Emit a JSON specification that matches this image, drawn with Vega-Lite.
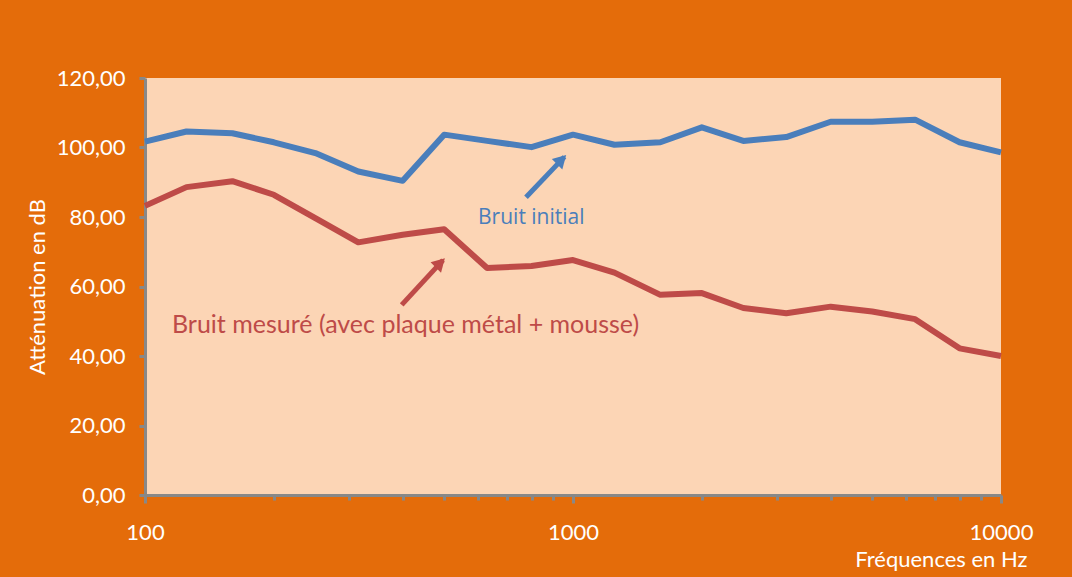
{
  "$schema": "https://vega.github.io/schema/vega-lite/v6.json",
  "width": 856,
  "height": 417,
  "autosize": {"type": "none"},
  "padding": {"left": 145, "top": 78, "right": 71, "bottom": 82},
  "background": "#E46C0A",
  "config": {
    "view": {"fill": "#FCD5B5", "stroke": null},
    "font": "Lato"
  },
  "datasets": {
    "series": [
      {"freq": 100, "value": 101.7, "serie": "Bruit initial"},
      {"freq": 125, "value": 104.6, "serie": "Bruit initial"},
      {"freq": 160, "value": 104.1, "serie": "Bruit initial"},
      {"freq": 200, "value": 101.5, "serie": "Bruit initial"},
      {"freq": 250, "value": 98.4, "serie": "Bruit initial"},
      {"freq": 315, "value": 93.1, "serie": "Bruit initial"},
      {"freq": 400, "value": 90.4, "serie": "Bruit initial"},
      {"freq": 500, "value": 103.7, "serie": "Bruit initial"},
      {"freq": 630, "value": 101.9, "serie": "Bruit initial"},
      {"freq": 800, "value": 100.1, "serie": "Bruit initial"},
      {"freq": 1000, "value": 103.7, "serie": "Bruit initial"},
      {"freq": 1250, "value": 100.8, "serie": "Bruit initial"},
      {"freq": 1600, "value": 101.5, "serie": "Bruit initial"},
      {"freq": 2000, "value": 105.8, "serie": "Bruit initial"},
      {"freq": 2500, "value": 101.9, "serie": "Bruit initial"},
      {"freq": 3150, "value": 103.0, "serie": "Bruit initial"},
      {"freq": 4000, "value": 107.4, "serie": "Bruit initial"},
      {"freq": 5000, "value": 107.4, "serie": "Bruit initial"},
      {"freq": 6300, "value": 108.0, "serie": "Bruit initial"},
      {"freq": 8000, "value": 101.5, "serie": "Bruit initial"},
      {"freq": 10000, "value": 98.6, "serie": "Bruit initial"},
      {"freq": 100, "value": 83.2, "serie": "Bruit mesuré"},
      {"freq": 125, "value": 88.6, "serie": "Bruit mesuré"},
      {"freq": 160, "value": 90.3, "serie": "Bruit mesuré"},
      {"freq": 200, "value": 86.4, "serie": "Bruit mesuré"},
      {"freq": 250, "value": 79.7, "serie": "Bruit mesuré"},
      {"freq": 315, "value": 72.7, "serie": "Bruit mesuré"},
      {"freq": 400, "value": 74.9, "serie": "Bruit mesuré"},
      {"freq": 500, "value": 76.5, "serie": "Bruit mesuré"},
      {"freq": 630, "value": 65.3, "serie": "Bruit mesuré"},
      {"freq": 800, "value": 65.9, "serie": "Bruit mesuré"},
      {"freq": 1000, "value": 67.6, "serie": "Bruit mesuré"},
      {"freq": 1250, "value": 64.0, "serie": "Bruit mesuré"},
      {"freq": 1600, "value": 57.6, "serie": "Bruit mesuré"},
      {"freq": 2000, "value": 58.1, "serie": "Bruit mesuré"},
      {"freq": 2500, "value": 53.8, "serie": "Bruit mesuré"},
      {"freq": 3150, "value": 52.3, "serie": "Bruit mesuré"},
      {"freq": 4000, "value": 54.2, "serie": "Bruit mesuré"},
      {"freq": 5000, "value": 52.8, "serie": "Bruit mesuré"},
      {"freq": 6300, "value": 50.6, "serie": "Bruit mesuré"},
      {"freq": 8000, "value": 42.2, "serie": "Bruit mesuré"},
      {"freq": 10000, "value": 40.0, "serie": "Bruit mesuré"}
    ],
    "arrows": [
      {"freq": 776.6, "value": 85.7, "freq2": 955, "value2": 97.3, "serie": "Bruit initial"},
      {"freq": 397.9, "value": 54.7, "freq2": 497, "value2": 67.6, "serie": "Bruit mesuré"}
    ],
    "heads": [
      {"freq": 940.6, "value": 96.5, "serie": "Bruit initial"},
      {"freq": 489.8, "value": 66.8, "serie": "Bruit mesuré"}
    ],
    "labels": [
      {"freq": 600, "value": 77.9, "serie": "Bruit initial", "text": "Bruit initial"},
      {"freq": 115.6, "value": 46.65, "serie": "Bruit mesuré", "text": "Bruit mesuré (avec plaque métal + mousse)"}
    ]
  },
  "layer": [
    {
      "data": {"name": "series"},
      "mark": {"type": "line", "strokeWidth": 6, "strokeJoin": "round", "strokeCap": "butt"},
      "encoding": {
        "x": {
          "field": "freq", "type": "quantitative",
          "scale": {"type": "log", "domain": [100, 10000], "nice": false},
          "axis": {
            "values": [100, 200, 300, 400, 500, 600, 700, 800, 900, 1000, 2000, 3000, 4000, 5000, 6000, 7000, 8000, 9000, 10000],
            "labelExpr": "indexof([100,1000,10000], datum.value) >= 0 ? format(datum.value, 'd') : ''",
            "grid": false,
            "domainColor": "#888888", "domainWidth": 3,
            "tickColor": "#888888", "tickWidth": 3,
            "tickSize": {"condition": {"test": "indexof([100,1000,10000], datum.value) >= 0", "value": 8}, "value": 5},
            "labelColor": "white", "labelFont": "Lato", "labelFontSize": 22,
            "labelPadding": 19, "labelOverlap": false, "labelFlush": false,
            "title": "Fréquences en Hz",
            "titleColor": "white", "titleFont": "Lato", "titleFontSize": 22, "titleFontWeight": "normal",
            "titleX": 882, "titleY": 71, "titleAlign": "right", "titleBaseline": "alphabetic"
          }
        },
        "y": {
          "field": "value", "type": "quantitative",
          "scale": {"domain": [0, 120], "nice": false},
          "axis": {
            "values": [0, 20, 40, 60, 80, 100, 120],
            "labelExpr": "replace(format(datum.value, '.2f'), '.', ',')",
            "grid": false,
            "domainColor": "#888888", "domainWidth": 3,
            "tickColor": "#888888", "tickWidth": 3, "tickSize": 6,
            "labelColor": "white", "labelFont": "Lato", "labelFontSize": 22,
            "labelPadding": 14,
            "title": "Atténuation en dB",
            "titleColor": "white", "titleFont": "Lato", "titleFontSize": 22, "titleFontWeight": "normal",
            "titlePadding": 7
          }
        },
        "color": {
          "field": "serie", "type": "nominal",
          "scale": {"domain": ["Bruit initial", "Bruit mesuré"], "range": ["#4A7EBB", "#BE4B48"]},
          "legend": null
        }
      }
    },
    {
      "data": {"name": "arrows"},
      "mark": {"type": "rule", "strokeWidth": 5},
      "encoding": {
        "x": {"field": "freq", "type": "quantitative"},
        "y": {"field": "value", "type": "quantitative"},
        "x2": {"field": "freq2"},
        "y2": {"field": "value2"},
        "color": {"field": "serie", "type": "nominal", "legend": null}
      }
    },
    {
      "data": {"name": "heads"},
      "mark": {"type": "point", "shape": "triangle-up", "filled": true, "opacity": 1, "size": 220, "angle": 45},
      "encoding": {
        "x": {"field": "freq", "type": "quantitative"},
        "y": {"field": "value", "type": "quantitative"},
        "color": {"field": "serie", "type": "nominal", "legend": null}
      }
    },
    {
      "data": {"name": "labels"},
      "transform": [{"filter": "datum.serie == 'Bruit initial'"}],
      "mark": {"type": "text", "align": "left", "baseline": "alphabetic", "font": "Open Sans", "fontSize": 21},
      "encoding": {
        "x": {"field": "freq", "type": "quantitative"},
        "y": {"field": "value", "type": "quantitative"},
        "text": {"field": "text"},
        "color": {"field": "serie", "type": "nominal", "legend": null}
      }
    },
    {
      "data": {"name": "labels"},
      "transform": [{"filter": "datum.serie == 'Bruit mesuré'"}],
      "mark": {"type": "text", "align": "left", "baseline": "alphabetic", "font": "Lato", "fontSize": 25},
      "encoding": {
        "x": {"field": "freq", "type": "quantitative"},
        "y": {"field": "value", "type": "quantitative"},
        "text": {"field": "text"},
        "color": {"field": "serie", "type": "nominal", "legend": null}
      }
    }
  ]
}
